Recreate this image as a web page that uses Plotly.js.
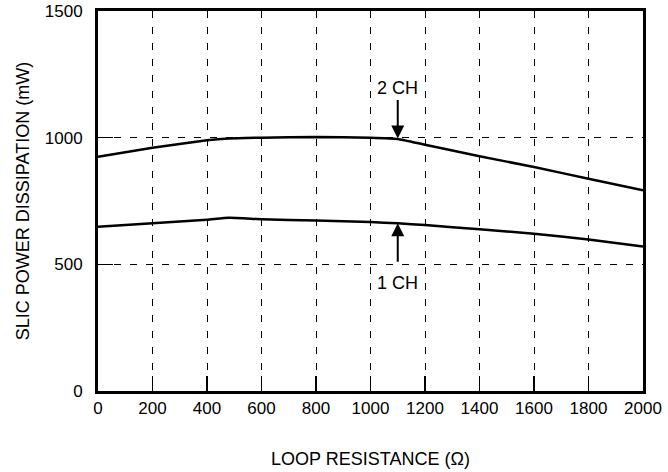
<!DOCTYPE html>
<html>
<head>
<meta charset="utf-8">
<script src="https://cdn.plot.ly/plotly-3.0.1.min.js"></script>
<style>html,body{margin:0;padding:0;background:#fff;}#chart{width:668px;height:472px;}</style>
</head>
<body>
<div id="chart"></div>
<script>
const loopResistance = [0, 200, 400, 480, 600, 800, 1000, 1100, 1200, 1400, 1600, 1800, 2000];
const power2ch = [925, 960, 990, 997, 1000, 1003, 1000, 995, 972, 927, 884, 838, 792];
const power1ch = [648, 662, 676, 684, 678, 673, 667, 662, 655, 638, 621, 598, 570];
const xTicks = [0, 200, 400, 600, 800, 1000, 1200, 1400, 1600, 1800, 2000];
const yTicks = [0, 500, 1000, 1500];
const label2 = "2 CH", label1 = "1 CH";
const arrowX = 1100, arrow2Y = 997, arrow1Y = 662;

const font = {family: '"Liberation Sans", Arial, sans-serif', color: '#000'};
const traces = [
  {x: loopResistance, y: power2ch, mode: 'lines', line: {color: '#000', width: 2.5, shape: 'spline', smoothing: 0.4}, hoverinfo: 'skip'},
  {x: loopResistance, y: power1ch, mode: 'lines', line: {color: '#000', width: 2.5, shape: 'spline', smoothing: 0.4}, hoverinfo: 'skip'}
];
const axisCommon = {
  showline: true, linecolor: '#000', linewidth: 3, mirror: true,
  showgrid: true, gridcolor: '#000', gridwidth: 1, griddash: '7px,9px',
  ticks: 'inside', ticklen: 15, tickwidth: 1.5, tickcolor: '#000',
  zeroline: false, tickfont: {...font, size: 17}
};
const layout = {
  width: 668, height: 472,
  margin: {l: 98, r: 25, t: 11, b: 81},
  paper_bgcolor: '#fff', plot_bgcolor: '#fff',
  showlegend: false, font: font,
  xaxis: {...axisCommon, range: [0, 2000], tickvals: xTicks, ticktext: xTicks.map(String),
    title: {text: 'LOOP RESISTANCE (Ω)', font: {...font, size: 18}, standoff: 35}},
  yaxis: {...axisCommon, range: [0, 1500], tickvals: yTicks, ticktext: yTicks.map(String),
    ticklabelstandoff: 9,
    title: {text: 'SLIC POWER DISSIPATION (mW)', font: {...font, size: 18}, standoff: 11}},
  annotations: [
    {x: arrowX, y: arrow2Y, xref: 'x', yref: 'y', text: '', showarrow: true, ax: 0, ay: -40,
      arrowhead: 2, arrowsize: 1.3, arrowwidth: 2, arrowcolor: '#000'},
    {x: arrowX, y: arrow1Y, xref: 'x', yref: 'y', text: '', showarrow: true, ax: 0, ay: 40,
      arrowhead: 2, arrowsize: 1.3, arrowwidth: 2, arrowcolor: '#000'},
    {x: arrowX, y: arrow2Y, xref: 'x', yref: 'y', text: label2, showarrow: false, yshift: 50,
      font: {...font, size: 18}, bgcolor: '#fff'},
    {x: arrowX, y: arrow1Y, xref: 'x', yref: 'y', text: label1, showarrow: false, yshift: -60,
      font: {...font, size: 18}, bgcolor: '#fff'}
  ]
};
Plotly.newPlot('chart', traces, layout, {staticPlot: true, displayModeBar: false});
</script>
</body>
</html>
